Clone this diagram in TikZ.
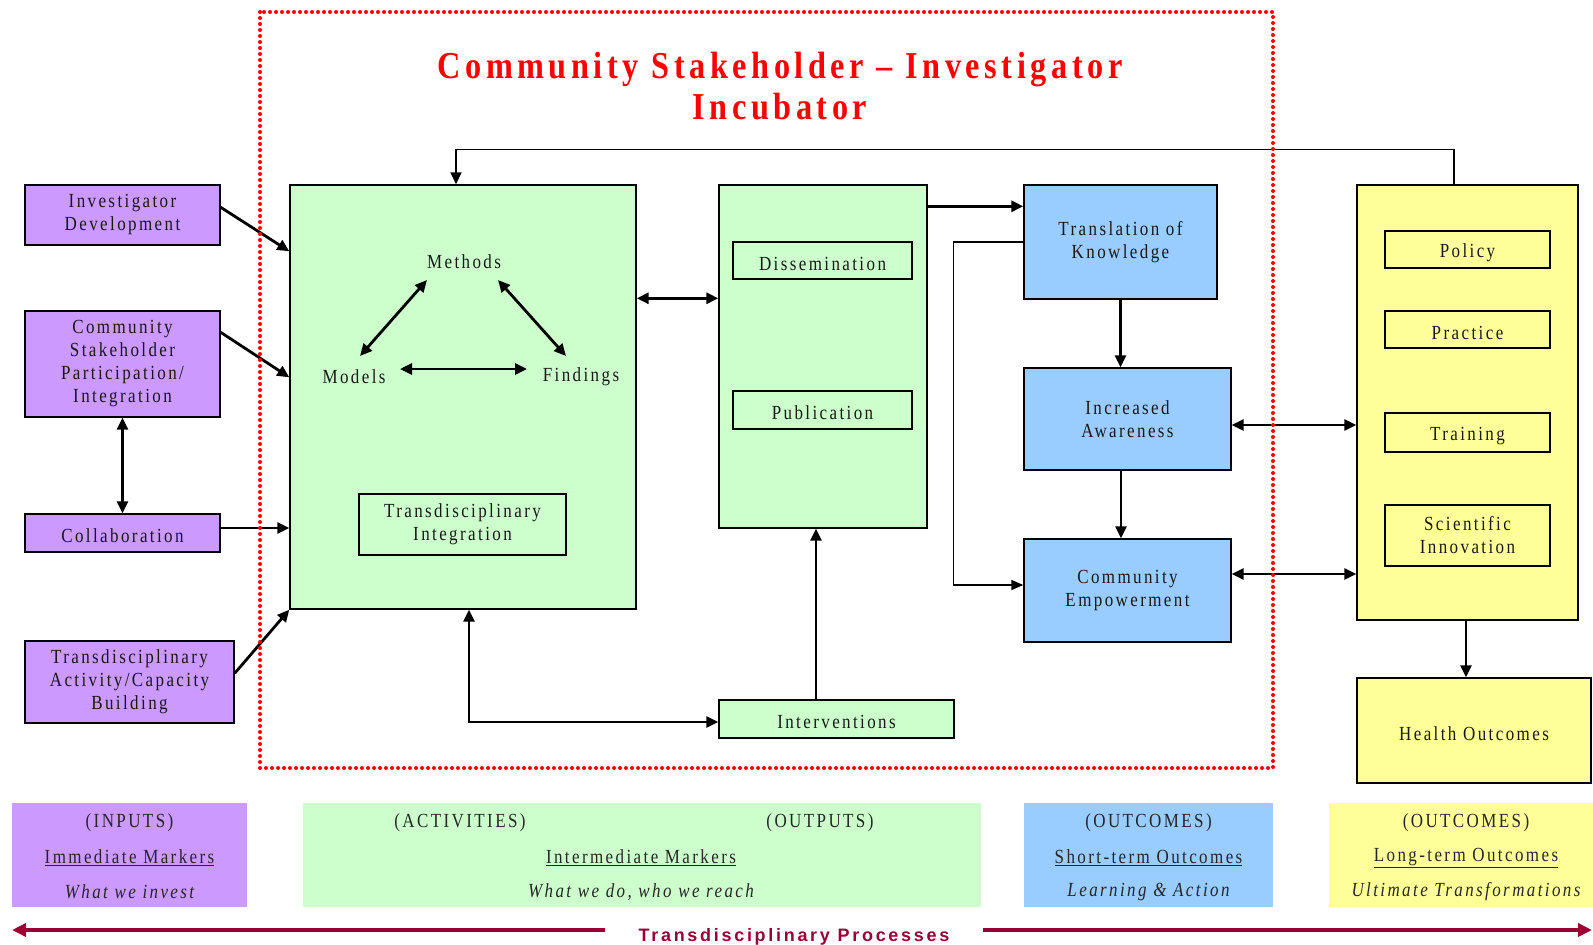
\documentclass[tikz,border=0pt]{standalone}
\usepackage{fontspec}
\usetikzlibrary{arrows.meta}
\newfontfamily\bxfont{Liberation Serif}[FakeStretch=0.85,LetterSpace=12]
\newfontfamily\ttlfont{Liberation Serif}[FakeStretch=0.85,LetterSpace=12]
\newfontfamily\prfont{Liberation Sans}[LetterSpace=15]
\definecolor{cpurple}{HTML}{CC99FF}
\definecolor{cgreen}{HTML}{CCFFCC}
\definecolor{cblue}{HTML}{99CCFF}
\definecolor{cyellow}{HTML}{FFFF99}
\definecolor{cmaroon}{HTML}{990033}
\definecolor{cred}{HTML}{FF0000}
\begin{document}
\begin{tikzpicture}[x=1pt,y=-1pt,
  box/.style={draw=black,line width=1.4pt,inner sep=0pt,align=center,
    font=\bxfont\fontsize{20}{23}\selectfont,text=black!90},
  sl/.style={execute at begin node={\rule{0pt}{20pt}}},
  lbl/.style={inner sep=1pt,align=center,font=\bxfont\fontsize{20}{23}\selectfont,text=black!90},
  leg/.style={inner sep=0pt,minimum height=104pt},
  legtxt/.style={inner sep=0pt,font=\bxfont\fontsize{20}{23}\selectfont,text=black!85},
  arr/.style={line width=2.8pt,-{Triangle[length=12pt,width=11pt]}},
  dbl/.style={line width=2.8pt,{Triangle[length=12pt,width=11pt]}-{Triangle[length=12pt,width=11pt]}},
  thinarr/.style={line width=1.5pt,-{Triangle[length=12pt,width=10pt]}},
  marr/.style={draw=cmaroon,line width=4pt,-{Triangle[length=14pt,width=13pt]}},
]
\useasboundingbox (0,0) rectangle (1593,945);

% title
\node[font=\ttlfont\bfseries\fontsize{38}{41}\selectfont,text=cred,align=center] (title) at (780,86)
  {Community Stakeholder – Investigator\\Incubator};

% inputs
\node[box,fill=cpurple,minimum width=195pt,minimum height=60pt] (invdev) at (122.5,215) {Investigator\\Development};
\node[box,fill=cpurple,minimum width=195pt,minimum height=106pt] (comm) at (122.5,364) {Community\\Stakeholder\\Participation/\\Integration};
\node[box,sl,fill=cpurple,minimum width=195pt,minimum height=38pt] (collab) at (122.5,533) {Collaboration};
\node[box,fill=cpurple,minimum width=209pt,minimum height=82pt] (tdact) at (129.5,682) {Transdisciplinary\\Activity/Capacity\\Building};

% activities
\node[box,fill=cgreen,minimum width=346pt,minimum height=424pt] (bigG) at (463,397) {};
\node[lbl] (meth) at (464,262) {Methods};
\node[lbl] (mod) at (354,377) {Models};
\node[lbl] (find) at (581,377) {Findings};
\node[box,fill=cgreen,minimum width=207pt,minimum height=61pt] (ti) at (462.5,524.5) {Transdisciplinary\\Integration};

\node[box,fill=cgreen,minimum width=208pt,minimum height=343pt] (secG) at (823,356.5) {};
\node[box,sl,fill=cgreen,minimum width=179pt,minimum height=37pt] (diss) at (822.5,260.5) {Dissemination};
\node[box,sl,fill=cgreen,minimum width=179pt,minimum height=38pt] (pub) at (822.5,410) {Publication};
\node[box,sl,fill=cgreen,minimum width=235pt,minimum height=38pt] (interv) at (836.5,719) {Interventions};

% short-term
\node[box,fill=cblue,minimum width=193pt,minimum height=114pt] (trans) at (1120.5,242) {Translation of\\Knowledge};
\node[box,fill=cblue,minimum width=207pt,minimum height=102pt] (inc) at (1127.5,419) {Increased\\Awareness};
\node[box,fill=cblue,minimum width=207pt,minimum height=103pt] (emp) at (1127.5,590.5) {Community\\Empowerment};

% long-term
\node[box,fill=cyellow,minimum width=221pt,minimum height=435pt] (yel) at (1467.5,402.5) {};
\node[box,sl,fill=cyellow,minimum width=165pt,minimum height=37pt] (pol) at (1467.5,249.5) {Policy};
\node[box,sl,fill=cyellow,minimum width=165pt,minimum height=37pt] (prac) at (1467.5,329.5) {Practice};
\node[box,sl,fill=cyellow,minimum width=165pt,minimum height=39pt] (train) at (1467.5,432.5) {Training};
\node[box,fill=cyellow,minimum width=165pt,minimum height=61pt] (sci) at (1467.5,535.5) {Scientific\\Innovation};
\node[box,sl,fill=cyellow,minimum width=234pt,minimum height=105pt] (health) at (1474,730.5) {Health Outcomes};

% connectors: inputs
\draw[arr] ([yshift=-23pt]invdev.north east) -- ([yshift=-67pt]bigG.north west);
\draw[arr] ([yshift=-22pt]comm.north east) -- ([yshift=-193pt]bigG.north west);
\draw[arr] ([yshift=5pt]collab.east) -- ([yshift=5pt]collab.east -| bigG.west);
\draw[arr] ([yshift=-33pt]tdact.north east) -- (bigG.south west);
\draw[dbl] (comm.south) -- (collab.north);

% triangle
\draw[dbl] ([xshift=-37pt,yshift=-18pt]meth.center) -- ([xshift=6pt,yshift=21pt]mod.center);
\draw[dbl] ([xshift=34pt,yshift=-18pt]meth.center) -- ([xshift=-15pt,yshift=21pt]find.center);
\draw[dbl] ([xshift=46pt,yshift=8pt]mod.center) -- ([xshift=-54pt,yshift=8pt]find.center);

% activities/outputs
\draw[dbl] ([yshift=-114pt]bigG.north east) -- ([yshift=-114pt]secG.north west);
\draw[dbl] ([xshift=6pt]bigG.south) |- ([yshift=-3pt]interv.west);
\draw[arr] ([xshift=-20.5pt]interv.north) -- ([xshift=-20.5pt]interv.north |- secG.south);
\draw[arr] ([yshift=-22pt]secG.north east) -- ([yshift=-22pt]trans.north west);

% short-term
\draw[thinarr] (trans.west) -- ++(-70,0) |- ([yshift=5.5pt]emp.west);
\draw[arr] (trans.south) -- (trans.south |- inc.north);
\draw[arr] ([xshift=-6.5pt]inc.south) -- ([xshift=-6.5pt]emp.north);
\draw[dbl] ([yshift=-6pt]inc.east) -- ([yshift=-6pt]inc.east -| yel.west);
\draw[dbl] ([yshift=16.5pt]emp.east) -- ([yshift=16.5pt]emp.east -| yel.west);
\draw[arr] ([xshift=-1.5pt]yel.south) -- ([xshift=-1.5pt]yel.south |- health.north);

% feedback loop
\draw[line width=1.6pt,-{Triangle[length=12pt,width=11pt]}] ([xshift=-13.5pt]yel.north) -- ++(0,-35) -| ([xshift=-7pt]bigG.north);

% incubator frame
\draw[cred,line width=4pt,line cap=round,dash pattern=on 0pt off 6pt] (260,12) rectangle (1273,768);

% legend
\node[leg,fill=cpurple,minimum width=235pt] (lin) at (129.5,855) {};
\node[leg,fill=cgreen,minimum width=678pt] (lact) at (642,855) {};
\node[leg,fill=cblue,minimum width=249pt] (lshort) at (1148.5,855) {};
\node[leg,fill=cyellow,minimum width=264pt] (llong) at (1461,855) {};

\node[legtxt] (t1a) at (129.5,823) {(INPUTS)};
\node[legtxt] (t1b) at (129.5,858) {\underline{Immediate Markers}};
\node[legtxt] (t1c) at (129.5,892) {\itshape What we invest};

\node[legtxt] (t2a) at (460,823) {(ACTIVITIES)};
\node[legtxt] (t2d) at (820,823) {(OUTPUTS)};
\node[legtxt] (t2b) at (641,858) {\underline{Intermediate Markers}};
\node[legtxt] (t2c) at (641,892) {\itshape What we do, who we reach};

\node[legtxt] (t3a) at (1148.5,823) {(OUTCOMES)};
\node[legtxt] (t3b) at (1148.5,858) {\underline{Short-term Outcomes}};
\node[legtxt] (t3c) at (1148.5,892) {\itshape Learning \& Action};

\node[legtxt] (t4a) at (1466,823) {(OUTCOMES)};
\node[legtxt] (t4b) at (1466,858) {\underline{Long-term Outcomes}};
\node[legtxt] (t4c) at (1466,892) {\itshape Ultimate Transformations};

% processes arrow
\node[anchor=base,inner sep=0pt,font=\prfont\bfseries\fontsize{18}{20}\selectfont,text=cmaroon] (proc) at (794,941) {Transdisciplinary Processes};
\coordinate (lend) at (12,930);
\coordinate (rend) at (1592,930);
\draw[marr] ([xshift=-33pt]proc.west |- lend) -- (lend);
\draw[marr] ([xshift=33pt]proc.east |- rend) -- (rend);
\end{tikzpicture}
\end{document}
